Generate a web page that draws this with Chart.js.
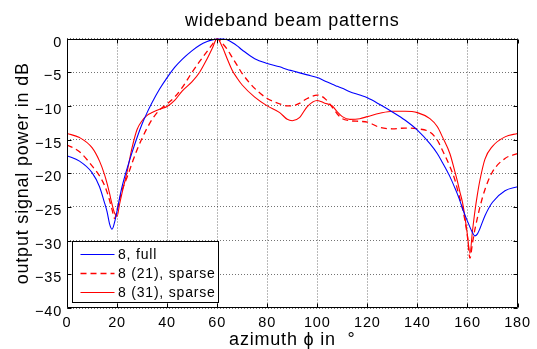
<!DOCTYPE html>
<html><head><meta charset="utf-8">
<script src="https://cdn.jsdelivr.net/npm/chart.js@4/dist/chart.umd.min.js"></script>
<style>html,body{margin:0;padding:0;background:#fff;}canvas{display:block;}</style>
</head><body>
<canvas id="c" width="537" height="349"></canvas>
<script>
const azimuth = [0,5,10,13,15,16,17,18,19,20,21,22,24,26,28,30,32,34,37,40,43,46,50,53,56,58,60,62,64,66,68,70,75,80,85,88,90,93,96,100,103,106,108,110,113,117,120,125,130,135,140,145,148,150,153,155,156,157,158,159,160,161,162,163,164,165,167,170,175,180];
const fullDb = [-17.4,-18.2,-19.9,-22.0,-24.4,-25.7,-27.5,-28.3,-27.3,-25.6,-23.7,-22.0,-19.3,-16.9,-14.7,-12.7,-11.0,-9.5,-7.5,-5.8,-4.3,-3.1,-1.8,-1.0,-0.45,-0.2,-0.05,0,-0.2,-0.6,-1.1,-1.7,-3.0,-3.7,-4.2,-4.6,-4.8,-5.1,-5.4,-5.8,-6.3,-6.8,-7.1,-7.4,-7.9,-8.4,-8.8,-9.8,-10.9,-12.1,-13.6,-15.6,-17.1,-18.4,-20.5,-22.2,-23.1,-24.1,-25.2,-26.2,-27.1,-28.0,-28.8,-29.3,-29.0,-28.2,-26.3,-24.3,-22.6,-22.0];
const sparse21Db = [-15.8,-16.8,-18.9,-20.4,-21.8,-22.8,-24.0,-25.4,-26.7,-25.4,-23.9,-22.5,-20.6,-18.5,-16.5,-14.8,-13.3,-12.0,-10.6,-9.7,-8.7,-7.3,-5.0,-3.4,-1.9,-0.9,0,-0.7,-1.6,-2.8,-4.0,-5.2,-7.4,-8.9,-9.7,-10.0,-10.0,-9.6,-8.9,-8.4,-8.9,-10.2,-11.2,-11.9,-12.2,-12.3,-12.4,-13.2,-13.4,-13.3,-13.4,-13.9,-15.1,-16.6,-19.0,-21.0,-22.4,-23.8,-25.2,-27.0,-29.4,-32.6,-30.4,-28.3,-26.6,-25.0,-22.4,-19.8,-17.8,-17.1];
const sparse31Db = [-14.1,-14.7,-16.2,-18.2,-20.2,-21.5,-23.0,-24.6,-25.9,-26.4,-24.6,-22.9,-19.8,-16.2,-13.5,-12.2,-11.4,-11.0,-10.5,-10.1,-9.2,-7.8,-6.4,-5.0,-3.0,-1.5,0,-1.2,-3.0,-4.7,-5.9,-6.9,-8.7,-10.0,-11.0,-12.0,-12.2,-11.7,-10.1,-9.2,-9.6,-10.0,-10.9,-11.6,-12.0,-11.9,-11.6,-11.1,-10.8,-10.8,-11.0,-11.9,-13.1,-14.6,-17.1,-19.8,-21.2,-22.8,-24.3,-26.5,-29.2,-31.9,-28.6,-25.6,-23.1,-21.0,-17.9,-16.0,-14.6,-14.1];
const xTicks = [0,20,40,60,80,100,120,140,160,180];
const yTicks = [0,-5,-10,-15,-20,-25,-30,-35,-40];
const seriesLabels = ['8, full','8 (21), sparse','8 (31), sparse'];
const titleText = 'wideband beam patterns';
const xTitle = 'azimuth \u03d5 in  \u00b0';
const yTitle = 'output signal power in dB';

const FONT = 'Liberation Sans, Arial, Helvetica, sans-serif';
const pts = ys => azimuth.map((a, i) => ({x: a, y: ys[i]}));
const fmt = v => v < 0 ? '\u2212' + Math.abs(v) : String(v);

const spacingPlugin = {
  id: 'spacing',
  beforeLayout(chart) { chart.ctx.letterSpacing = '0.8px'; },
  beforeDraw(chart) { chart.ctx.letterSpacing = '0.8px'; }
};

const framePlugin = {
  id: 'frame',
  afterDatasetsDraw(chart) {
    const {ctx, chartArea: a, scales} = chart;
    ctx.save();
    ctx.setLineDash([]);
    ctx.strokeStyle = '#000';
    ctx.lineWidth = 1;
    const L = Math.round(a.left) + 0.5, R = Math.round(a.right) - 0.5;
    const T = Math.round(a.top) + 0.5, B = Math.round(a.bottom) - 0.5;
    ctx.beginPath();
    ctx.rect(L, T, R - L, B - T);
    const tl = 4;
    xTicks.forEach(v => {
      const px = Math.round(scales.x.getPixelForValue(v)) + 0.5;
      ctx.moveTo(px, B); ctx.lineTo(px, B - tl);
      ctx.moveTo(px, T); ctx.lineTo(px, T + tl);
    });
    yTicks.forEach(v => {
      const py = Math.round(scales.y.getPixelForValue(v)) + 0.5;
      ctx.moveTo(L, py); ctx.lineTo(L + tl, py);
      ctx.moveTo(R, py); ctx.lineTo(R - tl, py);
    });
    ctx.stroke();
    ctx.restore();
  }
};

const legendBoxPlugin = {
  id: 'legendBox',
  afterDraw(chart) {
    const {ctx, chartArea: a} = chart;
    ctx.save();
    const l = Math.round(a.left) + 5.5, b = Math.round(a.bottom) - 5.5;
    const w = 146, h = 61;
    const t = b - h;
    ctx.setLineDash([]);
    ctx.fillStyle = '#fff';
    ctx.fillRect(l, t, w, h);
    ctx.strokeStyle = '#000';
    ctx.lineWidth = 1;
    ctx.strokeRect(l, t, w, h);
    ctx.font = '14px ' + FONT;
    ctx.letterSpacing = '0.8px';
    ctx.textBaseline = 'middle';
    ctx.textAlign = 'left';
    chart.data.datasets.forEach((ds, i) => {
      const y = Math.round(t + 12 + i * 19.2) + 0.5;
      ctx.strokeStyle = ds.borderColor;
      ctx.lineWidth = ds.borderWidth;
      ctx.setLineDash(ds.borderDash || []);
      ctx.beginPath();
      ctx.moveTo(l + 8, y);
      ctx.lineTo(l + 42, y);
      ctx.stroke();
      ctx.setLineDash([]);
      ctx.fillStyle = '#000';
      ctx.fillText(ds.label, l + 45.5, y + 0.8);
    });
    ctx.restore();
  }
};

const gridCol = 'rgba(0,0,0,0.55)';
const RED = 'rgb(255,0,0)';
const BLUE = 'rgb(0,0,255)';

new Chart(document.getElementById('c'), {
  type: 'line',
  data: {
    datasets: [
      {label: seriesLabels[0], data: pts(fullDb), borderColor: BLUE, borderWidth: 1.1, borderDash: []},
      {label: seriesLabels[1], data: pts(sparse21Db), borderColor: RED, borderWidth: 1.3, borderDash: [6, 4]},
      {label: seriesLabels[2], data: pts(sparse31Db), borderColor: RED, borderWidth: 1.1, borderDash: []}
    ]
  },
  options: {
    responsive: false,
    animation: false,
    devicePixelRatio: 1,
    layout: {padding: {left: 0, right: 19.5, top: 0, bottom: 0}},
    elements: {point: {radius: 0}, line: {cubicInterpolationMode: 'monotone', fill: false}},
    plugins: {
      legend: {display: false},
      tooltip: {enabled: false},
      title: {display: true, text: titleText, fullSize: false, color: '#000',
        font: {family: FONT, size: 18, weight: 'normal', lineHeight: 1.2},
        padding: {top: 10, bottom: 6.9}}
    },
    scales: {
      x: {
        type: 'linear', min: 0, max: 180,
        afterBuildTicks: s => { s.ticks = xTicks.map(v => ({value: v})); },
        afterFit: s => { s.height = 41; },
        ticks: {color: '#000', font: {family: FONT, size: 14.5}, padding: 6.2, maxRotation: 0, callback: fmt},
        grid: {color: gridCol, drawTicks: false, lineWidth: 1},
        border: {display: false, dash: [1, 2]},
        title: {display: true, text: xTitle, color: '#000', font: {family: FONT, size: 18, lineHeight: 1.2}, padding: {top: 0, bottom: -2.3}}
      },
      y: {
        type: 'linear', min: -40, max: 0,
        afterBuildTicks: s => { s.ticks = yTicks.map(v => ({value: v})); },
        afterFit: s => { s.width = 67; },
        ticks: {color: '#000', font: {family: FONT, size: 14.5}, padding: 5, labelOffset: 4, callback: fmt},
        grid: {color: gridCol, drawTicks: false, lineWidth: 1},
        border: {display: false, dash: [1, 2]},
        title: {display: true, text: yTitle, color: '#000', font: {family: FONT, size: 18, lineHeight: 1.2}, padding: {top: 12, bottom: 0}}
      }
    }
  },
  plugins: [spacingPlugin, framePlugin, legendBoxPlugin]
});
</script>
</body></html>
